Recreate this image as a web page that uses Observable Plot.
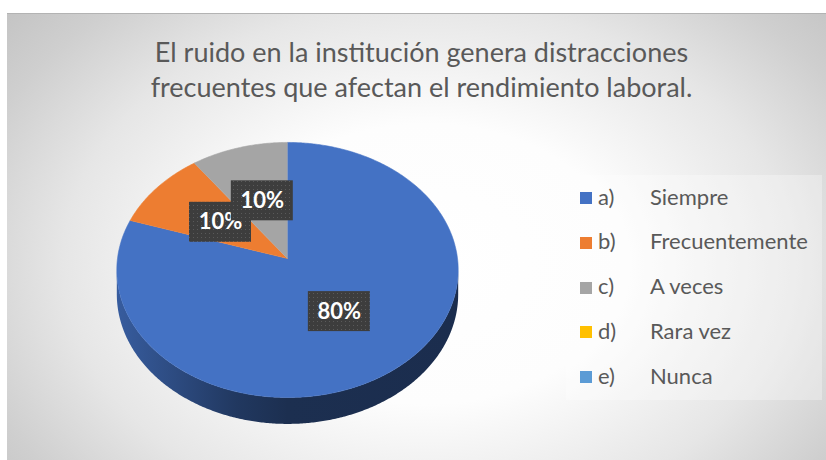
<!DOCTYPE html>
<html>
<head>
<meta charset="utf-8">
<script src="https://cdn.jsdelivr.net/npm/d3@7"></script>
<script src="https://cdn.jsdelivr.net/npm/@observablehq/plot@0.6"></script>
<style>
  body { margin: 0; background: #ffffff; }
  #wrap { position: relative; width: 826px; height: 460px; overflow: hidden; font-family: Lato, "Open Sans", sans-serif; }
  #bg { position: absolute; left: 7px; top: 13px; right: 0; bottom: 0;
        border-top: 1px solid #b3b3b3;
        background: radial-gradient(ellipse 560px 400px at 420px 250px, #ffffff 0%, #fdfdfd 35%, #e6e6e6 65%, #cfcfcf 85%, #c2c2c2 100%); }
  #title { position: absolute; left: 0; width: 843px; top: 34px; text-align: center; font-size: 27px; line-height: 35px; color: #595959; }
  #legend { position: absolute; left: 566px; top: 175px; width: 256px; height: 225px; background: rgba(255,255,255,0.3); }
  .sw { position: absolute; width: 12px; height: 12px; }
  .lt { position: absolute; font-size: 22px; color: #595959; line-height: 20px; white-space: nowrap; }
  #chart { position: absolute; left: 0; top: 0; }
</style>
</head>
<body>
<div id="wrap">
  <div id="bg"></div>
  <div id="title"></div>
  <div id="legend"></div>
  <div id="chart"></div>
</div>
<script>
const titleLines = ["El ruido en la institución genera distracciones", "frecuentes que afectan el rendimiento laboral."];
const categories = ["a)", "b)", "c)", "d)", "e)"];
const labels = ["Siempre", "Frecuentemente", "A veces", "Rara vez", "Nunca"];
const values = [80, 10, 10, 0, 0];
const colors = ["#4472C4", "#ED7D31", "#A5A5A5", "#FFC000", "#5B9BD5"];

// Title
document.getElementById("title").innerHTML = titleLines.map(t => `<div>${t}</div>`).join("");

// Legend (HTML, built from arrays)
const legend = document.getElementById("legend");
categories.forEach((c, i) => {
  const cy = 23 + i * 44.75; // relative to legend box top
  const sw = document.createElement("div");
  sw.className = "sw"; sw.style.left = "14px"; sw.style.top = (cy - 6) + "px"; sw.style.background = colors[i];
  legend.appendChild(sw);
  const a = document.createElement("div");
  a.className = "lt"; a.style.left = "32px"; a.style.top = (cy - 11.5) + "px"; a.textContent = c;
  legend.appendChild(a);
  const b = document.createElement("div");
  b.className = "lt"; b.style.left = "84px"; b.style.top = (cy - 11.5) + "px"; b.textContent = labels[i];
  legend.appendChild(b);
});

// Pie geometry (3D, perspective)
const data = categories.map((c, i) => ({cat: c, label: labels[i], value: values[i], color: colors[i], idx: i}));
const total = d3.sum(values);
const arcs = d3.pie().sort(null).value(d => d.value)(data);

const P = 0.09, H = 0.19;
const proj = (r, a, h = 0) => {
  const u = r * Math.sin(a), v = r * Math.cos(a);
  const f = 1 / (1 + P * v);
  return [u * f, (v - h) * f];
};
const STEP = Math.PI / 360;
function rim(a0, a1, h) {
  const n = Math.max(2, Math.ceil(Math.abs(a1 - a0) / STEP));
  return d3.range(n + 1).map(i => proj(1, a0 + (a1 - a0) * i / n, h));
}
const vis0 = Math.acos(-P), vis1 = 2 * Math.PI - vis0;

const topPts = [], sidePts = [], shadowPts = [];
arcs.forEach(a => {
  if (a.endAngle - a.startAngle <= 0) return;
  const pts = [proj(0, 0), ...rim(a.startAngle, a.endAngle, 0)];
  pts.forEach(p => topPts.push({k: a.data.cat, x: p[0], y: p[1], fill: a.data.color}));
  const s = Math.max(a.startAngle, vis0), e = Math.min(a.endAngle, vis1);
  if (e > s) {
    const poly = [...rim(s, e, 0), ...rim(e, s, H)];
    poly.forEach(p => sidePts.push({k: a.data.cat, x: p[0], y: p[1], fill: `url(#side-${a.data.idx})`}));
  }
});
[...rim(vis1, vis0 + 2 * Math.PI, 0), ...rim(vis0, vis1, H)].forEach(p => shadowPts.push({x: p[0], y: p[1]}));

const labelData = arcs.filter(a => a.value > 0).map(a => {
  const [x, y] = proj(0.5, (a.startAngle + a.endAngle) / 2);
  return {x, y, text: d3.format(".0%")(a.value / total)};
});
const hw = 31 / 170, hh = 20 / 126.5;

const labelMarks = labelData.flatMap(d => [
  Plot.rect([d], {x1: d => d.x - hw, x2: d => d.x + hw, y1: d => d.y - hh, y2: d => d.y + hh,
                  fill: "url(#dots)", ariaLabel: "labelbox"}),
  Plot.text([d], {x: "x", y: "y", text: "text", fill: "white", fontSize: 22, fontWeight: "bold",
                  fontFamily: "Lato, 'Open Sans', sans-serif"})
]);

const svg = Plot.plot({
  width: 826, height: 460, margin: 0,
  style: {background: "transparent", overflow: "visible"},
  x: {domain: [-1, 1], range: [117, 457], axis: null},
  y: {domain: [-1, 1], range: [384.5, 131.5], axis: null},
  color: {type: "identity"},
  marks: [
    Plot.line(shadowPts, {x: "x", y: "y", fill: "#000", fillOpacity: 0.28, stroke: "none", ariaLabel: "pieshadow"}),
    Plot.line(sidePts, {x: "x", y: "y", z: "k", fill: "fill", stroke: "none"}),
    Plot.line(topPts, {x: "x", y: "y", z: "k", fill: "fill", stroke: "fill", strokeWidth: 0.6}),
    ...labelMarks
  ]
});

// defs: gradients, pattern, filters
const defs = d3.select(svg).insert("defs", ":first-child");
data.forEach(d => {
  const c = d3.color(d.color);
  const g = defs.append("linearGradient").attr("id", `side-${d.idx}`).attr("x1", 0).attr("x2", 1).attr("y1", 0).attr("y2", 0);
  [[0, 0.6], [0.15, 1.1], [0.35, 2.0], [0.5, 2.5], [1, 2.6]].forEach(([o, k]) =>
    g.append("stop").attr("offset", o).attr("stop-color", c.darker(k).formatHex()));
});
const pat = defs.append("pattern").attr("id", "dots").attr("patternUnits", "userSpaceOnUse").attr("width", 4).attr("height", 4);
pat.append("rect").attr("width", 4).attr("height", 4).attr("fill", "#3d3d3d");
pat.append("rect").attr("x", 1).attr("y", 1).attr("width", 1).attr("height", 1).attr("fill", "#5a5a5a");
const f1 = defs.append("filter").attr("id", "blurShadow").attr("x", "-20%").attr("y", "-20%").attr("width", "140%").attr("height", "140%");
f1.append("feGaussianBlur").attr("stdDeviation", 5);
const f2 = defs.append("filter").attr("id", "boxShadow").attr("x", "-20%").attr("y", "-20%").attr("width", "140%").attr("height", "140%");
f2.append("feDropShadow").attr("dx", 2).attr("dy", 2).attr("stdDeviation", 1.5).attr("flood-color", "#000").attr("flood-opacity", 0.45);

svg.querySelectorAll('[aria-label="pieshadow"]').forEach(g => { g.setAttribute("filter", "url(#blurShadow)"); g.setAttribute("transform", "translate(0,3)"); });
svg.querySelectorAll('[aria-label="labelbox"]').forEach(g => g.setAttribute("filter", "url(#boxShadow)"));

document.getElementById("chart").appendChild(svg);
</script>
</body>
</html>
